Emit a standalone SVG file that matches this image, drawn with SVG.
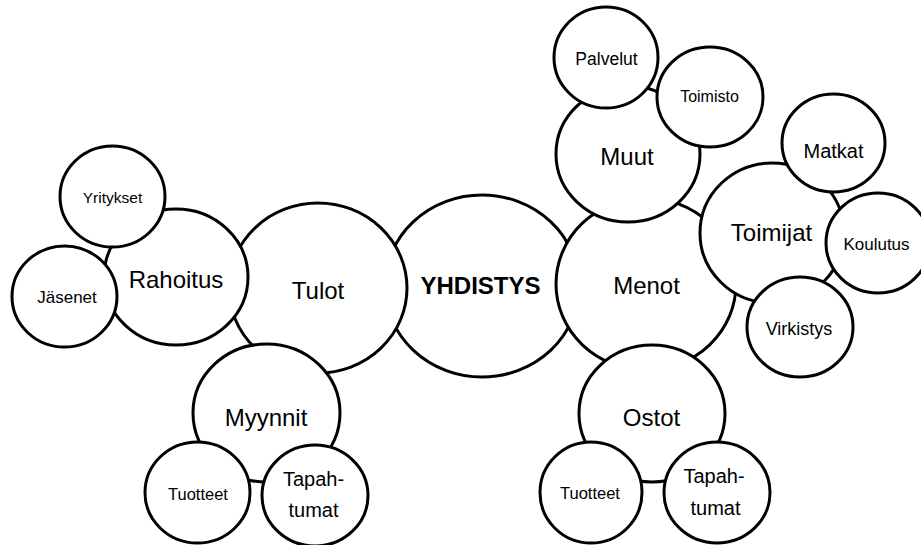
<svg xmlns="http://www.w3.org/2000/svg" width="921" height="545" viewBox="0 0 921 545">
<style>
.n{fill:#fff;stroke:#000;stroke-width:3}
text{font-family:"Liberation Sans",Arial,sans-serif;fill:#000;text-anchor:middle}
.b{font-size:24px}
.h{font-size:24px;font-weight:bold}
</style>
<rect width="921" height="545" fill="#fff"/>
<g id="connectors"></g>
<g id="yhdistys"><ellipse class="n" cx="482" cy="286" rx="97" ry="91"/><text class="h" x="480.5" y="294">YHDISTYS</text></g>
<g id="tulot"><ellipse class="n" cx="318" cy="288" rx="89" ry="85"/><text class="b" x="318" y="299">Tulot</text></g>
<g id="menot"><ellipse class="n" cx="646" cy="284" rx="90" ry="86"/><text class="b" x="646.5" y="294">Menot</text></g>
<g id="rahoitus"><ellipse class="n" cx="176" cy="277" rx="72" ry="68"/><text class="b" x="176" y="288">Rahoitus</text></g>
<g id="myynnit"><ellipse class="n" cx="266.5" cy="413" rx="73.5" ry="69"/><text class="b" x="266" y="426">Myynnit</text></g>
<g id="muut"><ellipse class="n" cx="628" cy="154" rx="72" ry="68"/><text class="b" x="627" y="165">Muut</text></g>
<g id="toimijat"><ellipse class="n" cx="772" cy="233" rx="72" ry="70"/><text class="b" x="771.5" y="241">Toimijat</text></g>
<g id="ostot"><ellipse class="n" cx="652" cy="413.5" rx="73" ry="68.5"/><text class="b" x="651.5" y="426">Ostot</text></g>
<g id="yritykset"><ellipse class="n" cx="112.5" cy="196.5" rx="52.5" ry="50.5"/><text x="112.5" y="203" font-size="15.5">Yritykset</text></g>
<g id="jasenet"><ellipse class="n" cx="64.5" cy="296.5" rx="52.5" ry="50.5"/><text x="67" y="303" font-size="17">Jäsenet</text></g>
<g id="tuotteet1"><ellipse class="n" cx="197.5" cy="492.5" rx="52.5" ry="50.5"/><text x="198" y="500" font-size="16.5">Tuotteet</text></g>
<g id="tapahtumat1"><ellipse class="n" cx="315" cy="495.5" rx="53" ry="50.5"/><text x="313.5" y="486" font-size="20">Tapah-</text><text x="313.5" y="517" font-size="20">tumat</text></g>
<g id="palvelut"><ellipse class="n" cx="606" cy="57.5" rx="52" ry="50.5"/><text x="606.5" y="65" font-size="17.5">Palvelut</text></g>
<g id="toimisto"><ellipse class="n" cx="710" cy="97" rx="53" ry="50"/><text x="709.5" y="102" font-size="16">Toimisto</text></g>
<g id="matkat"><ellipse class="n" cx="833.5" cy="143" rx="51.5" ry="49"/><text x="833.5" y="158" font-size="20">Matkat</text></g>
<g id="koulutus"><ellipse class="n" cx="878" cy="243" rx="52" ry="50"/><text x="876.5" y="250" font-size="17">Koulutus</text></g>
<g id="virkistys"><ellipse class="n" cx="800" cy="327" rx="53" ry="50"/><text x="799" y="335" font-size="18">Virkistys</text></g>
<g id="tuotteet2"><ellipse class="n" cx="591" cy="492.5" rx="51" ry="50.5"/><text x="590" y="499" font-size="16.5">Tuotteet</text></g>
<g id="tapahtumat2"><ellipse class="n" cx="717" cy="492.5" rx="53" ry="50.5"/><text x="714" y="483" font-size="20">Tapah-</text><text x="715.5" y="515" font-size="20">tumat</text></g>
</svg>
